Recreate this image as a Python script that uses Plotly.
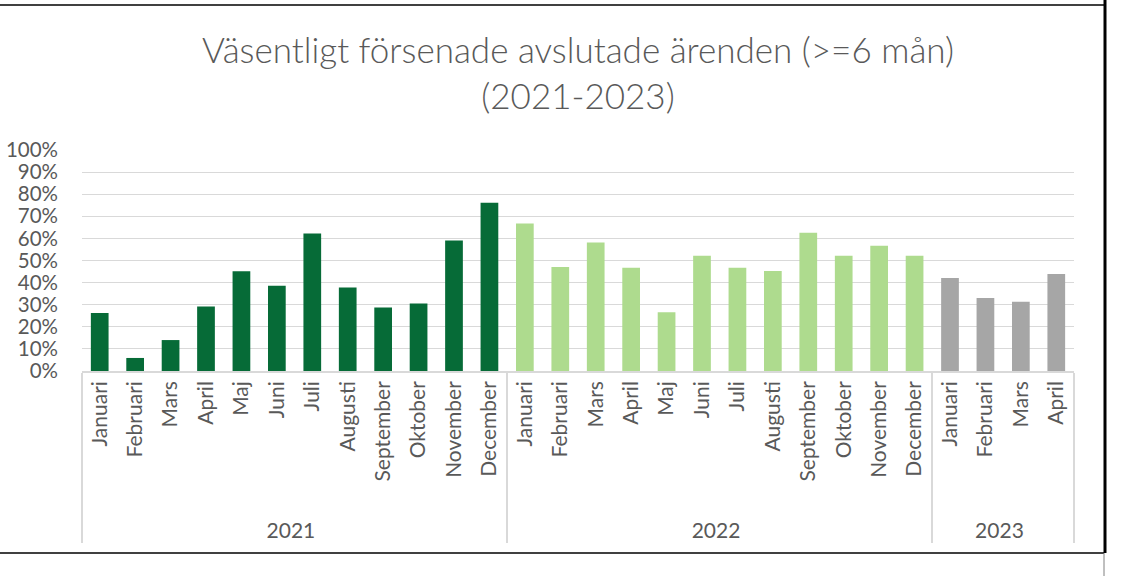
import plotly.graph_objects as go

years = ["2021"] * 12 + ["2022"] * 12 + ["2023"] * 4
months = ["Januari", "Februari", "Mars", "April", "Maj", "Juni", "Juli", "Augusti",
          "September", "Oktober", "November", "December"] * 2 + ["Januari", "Februari", "Mars", "April"]
values = [0.263, 0.059, 0.140, 0.292, 0.451, 0.386, 0.622, 0.378, 0.287, 0.305, 0.591, 0.761,
          0.667, 0.471, 0.581, 0.467, 0.266, 0.521, 0.467, 0.453, 0.626, 0.521, 0.567, 0.521,
          0.421, 0.330, 0.313, 0.439]
year_colors = {"2021": "#066B37", "2022": "#AEDB8E", "2023": "#A6A6A6"}
title_lines = ["Väsentligt försenade avslutade ärenden (>=6 mån)", "(2021-2023)"]

FONT = "Lato"
TXT = "#595959"

# small invisible padding so the year row sits as low as in the original
month_labels = ["\u00a0\u00a0\u00a0" + m for m in months]

fig = go.Figure(go.Bar(
    x=[years, month_labels],
    y=values,
    marker=dict(color=[year_colors[y] for y in years], line=dict(width=0)),
    hovertemplate="%{x}: %{y:.0%}<extra></extra>",
))

fig.update_layout(
    width=1123, height=576,
    paper_bgcolor="white", plot_bgcolor="white",
    margin=dict(l=82, r=49, t=150, b=205),
    bargap=0.5,
    showlegend=False,
    font=dict(family=FONT, color=TXT, size=20),
    title=dict(text="<br>".join(title_lines), x=0.5, xref="paper", xanchor="center",
               y=(576 - 63) / 576, yref="container", yanchor="middle",
               font=dict(family=FONT, size=35, color=TXT, weight=300)),
)
fig.update_yaxes(range=[0, 1], dtick=0.1, tickformat=".0%", showgrid=True, automargin=False,
                 gridcolor="#D9D9D9", gridwidth=1.3, zeroline=False, showline=False,
                 ticklabelstandoff=23, tickfont=dict(size=20.5, color=TXT, family=FONT))
fig.update_xaxes(type="multicategory", showline=True, linecolor="#D9D9D9", linewidth=1.5,
                 automargin=False,
                 tickangle=-90, showdividers=True, dividercolor="#D9D9D9", dividerwidth=1.5,
                 tickfont=dict(size=21, color=TXT, family=FONT), ticks="")

# page decorations around the chart (document borders)
fig.add_shape(type="line", xref="paper", yref="paper", x0=-82/992, x1=(1104-82)/992,
              y0=1 + (150-5)/221, y1=1 + (150-5)/221, line=dict(color="#404040", width=2))
fig.add_shape(type="line", xref="paper", yref="paper", x0=-82/992, x1=(1104-82)/992,
              y0=-(553-371)/221, y1=-(553-371)/221, line=dict(color="#404040", width=2))
fig.add_shape(type="line", xref="paper", yref="paper", x0=(1105-82)/992, x1=(1105-82)/992,
              y0=-(553-371)/221, y1=1 + 150/221, line=dict(color="black", width=3))
fig.add_shape(type="line", xref="paper", yref="paper", x0=(1104-82)/992, x1=(1104-82)/992,
              y0=-(576-371)/221, y1=-(553-371)/221, line=dict(color="#808080", width=1))

fig.write_html("out.html", config={"displayModeBar": False},
               post_script="document.body.style.margin='0';")
